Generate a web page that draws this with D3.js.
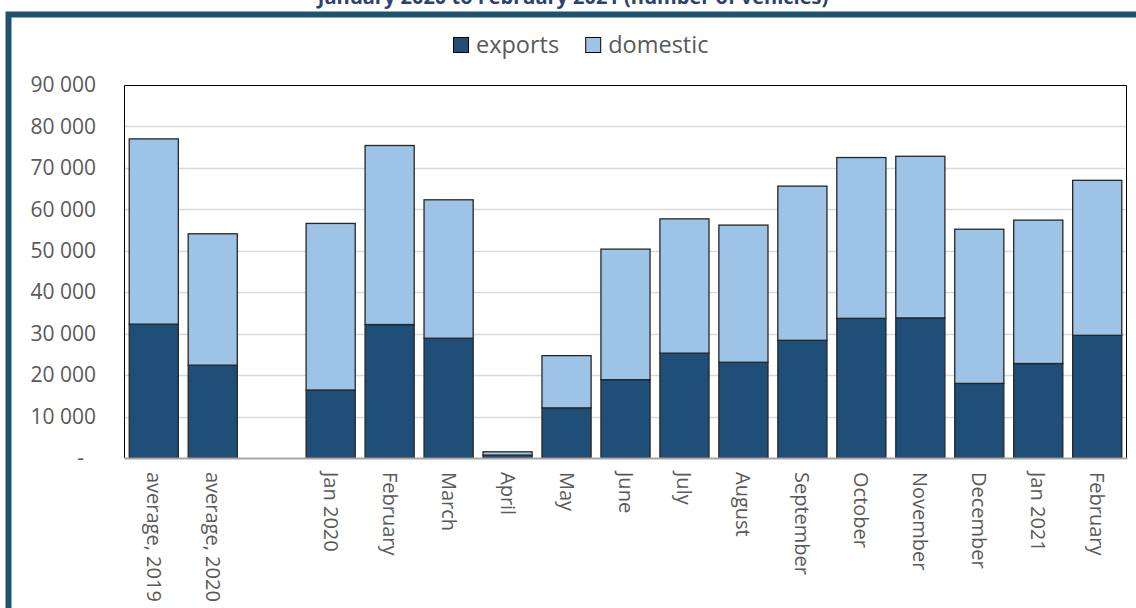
<!DOCTYPE html>
<html>
<head>
<meta charset="utf-8">
<script src="https://cdn.jsdelivr.net/npm/d3@7"></script>
<style>
  body { margin: 0; background: #fff; }
  svg { display: block; font-family: "Open Sans", sans-serif; }
</style>
</head>
<body>
<div id="chart"></div>
<script>
// categories (the empty key is the gap between the averages and the months)
var categories = ["average, 2019", "average, 2020", "", "Jan 2020", "February", "March", "April", "May",
    "June", "July", "August", "September", "October", "November", "December", "Jan 2021", "February "];
// exports and domestic, number of vehicles
var exports = [32300, 22400, null, 16400, 32200, 28900, 700, 12100,
    18900, 25300, 23100, 28400, 33700, 33800, 18000, 22800, 29600];
var totals = [77000, 54100, null, 56600, 75400, 62300, 1500, 24700,
    50400, 57700, 56200, 65600, 72500, 72800, 55200, 57400, 67000];
var domestic = totals.map(function(t, i) { return t == null ? null : t - exports[i]; });
var yTicks = [0, 10000, 20000, 30000, 40000, 50000, 60000, 70000, 80000, 90000];
var series = ["exports", "domestic"];
var colors = { exports: "#1f4e79", domestic: "#9dc3e6" };

var W = 1136, H = 608;
var margin = { top: 85, right: 9, bottom: 150, left: 124 },
    width = W - margin.left - margin.right,
    height = H - margin.top - margin.bottom;

var svg = d3.select("#chart").append("svg")
    .attr("width", W)
    .attr("height", H);

// title, cut off at the top as in the source
svg.append("text")
    .attr("x", 573)
    .attr("y", 4)
    .attr("text-anchor", "middle")
    .style("font-size", "20px")
    .style("font-weight", "bold")
    .style("fill", "#2b4170")
    .text("January 2020 to February 2021 (number of vehicles)");

// frame
svg.append("path")
    .attr("d", "M8.5," + H + " L8.5,14.5 L" + W + ",14.5")
    .attr("fill", "none")
    .attr("stroke", "#1d5370")
    .attr("stroke-width", 6);

var g = svg.append("g")
    .attr("transform", "translate(" + margin.left + "," + margin.top + ")");

var x = d3.scaleBand()
    .domain(categories)
    .range([0, width])
    .paddingInner(0.15)
    .paddingOuter(0.08);

var y = d3.scaleLinear()
    .domain([0, 90000])
    .range([height, 0]);

// gridlines
g.append("g")
    .selectAll("line")
    .data(yTicks.filter(function(d) { return d > 0 && d < 90000; }))
    .enter()
    .append("line")
    .attr("x1", 0)
    .attr("x2", width)
    .attr("y1", function(d) { return Math.round(y(d)) + 0.5; })
    .attr("y2", function(d) { return Math.round(y(d)) + 0.5; })
    .attr("stroke", "#d9d9d9")
    .attr("stroke-width", 1.5);

// plot border
g.append("path")
    .attr("d", "M0.5," + height + " V0.5 H" + (width - 0.5) + " V" + height)
    .attr("fill", "none")
    .attr("stroke", "#000")
    .attr("stroke-width", 1);

// y axis labels
var yAxis = g.append("g")
    .call(d3.axisLeft(y).tickValues(yTicks).tickSize(0).tickPadding(28)
        .tickFormat(function(d) { return d === 0 ? "-" : d3.format(",")(d).replace(/,/g, " "); }));
yAxis.select(".domain").remove();
yAxis.selectAll("text")
    .style("font-size", "21px")
    .style("font-family", "Open Sans, sans-serif")
    .style("fill", "#595959");
yAxis.selectAll(".tick")
    .filter(function(d) { return d === 0; })
    .select("text")
    .attr("x", -40);

// stacked bars
var rows = categories.map(function(c, i) {
    return { key: c, exports: exports[i] || 0, domestic: domestic[i] || 0, empty: exports[i] == null };
}).filter(function(d) { return !d.empty; });

var stacked = d3.stack().keys(series)(rows);

g.append("g")
    .selectAll("g")
    .data(stacked)
    .enter()
    .append("g")
    .attr("fill", function(d) { return colors[d.key]; })
    .selectAll("rect")
    .data(function(d) { return d; })
    .enter()
    .append("rect")
    .attr("x", function(d) { return x(d.data.key) + 0.5; })
    .attr("width", x.bandwidth() - 1)
    .attr("y", function(d) { return y(d[1]); })
    .attr("height", function(d) { return y(d[0]) - y(d[1]); })
    .attr("stroke", "#262626")
    .attr("stroke-width", 1.3);

// x axis
var xAxis = g.append("g")
    .attr("transform", "translate(0," + height + ")")
    .call(d3.axisBottom(x).tickSize(0).tickPadding(0));
xAxis.select(".domain")
    .attr("stroke", "#a6a6a6")
    .attr("stroke-width", 2);
xAxis.selectAll("text")
    .attr("transform", "rotate(90)")
    .attr("x", 14)
    .attr("y", 0)
    .attr("dy", "0.35em")
    .attr("text-anchor", "start")
    .style("font-size", "20px")
    .style("font-family", "Open Sans, sans-serif")
    .style("fill", "#595959");

// legend
var legend = svg.append("g").attr("transform", "translate(453,37)");
var lx = 0;
series.forEach(function(s) {
    var item = legend.append("g").attr("transform", "translate(" + lx + ",0)");
    item.append("rect")
        .attr("x", 0.5).attr("y", 0.5)
        .attr("width", 15).attr("height", 15)
        .attr("fill", colors[s])
        .attr("stroke", "#000");
    var t = item.append("text")
        .attr("x", 23)
        .attr("y", 8)
        .attr("dy", "0.36em")
        .style("font-size", "23.5px")
        .style("fill", "#595959")
        .text(s);
    lx += 23 + t.node().getComputedTextLength() + 26;
});
</script>
</body>
</html>
